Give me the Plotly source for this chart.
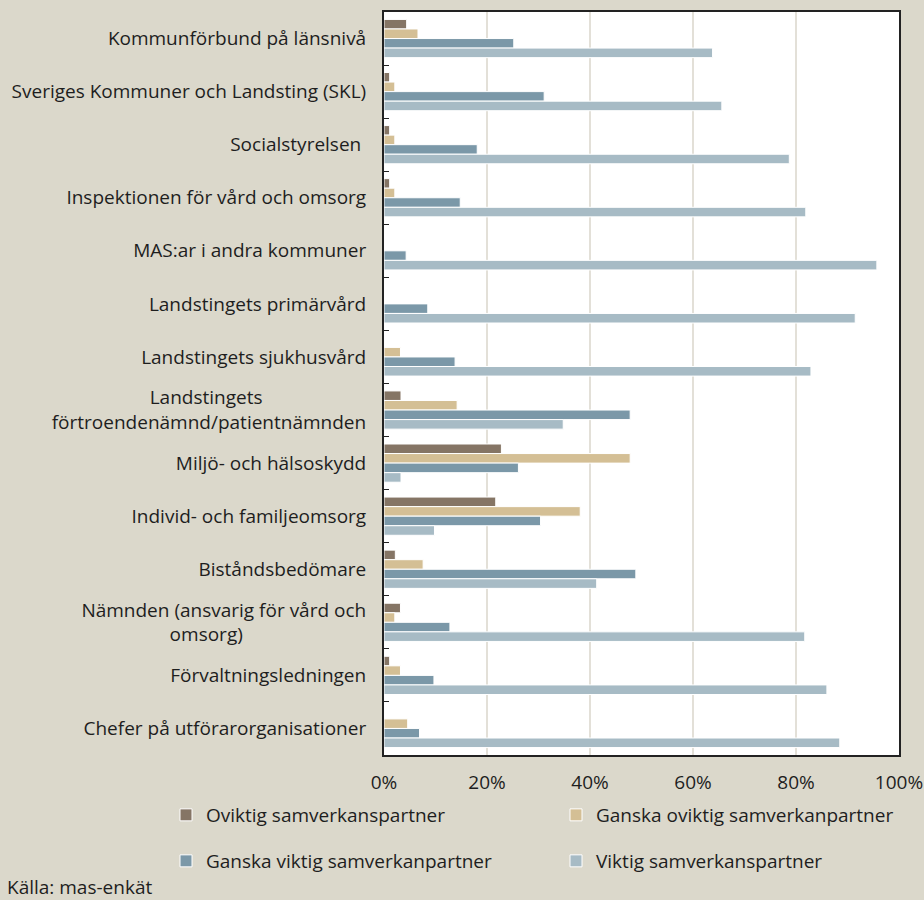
import plotly.graph_objects as go

NB = "\u00a0"
categories = [
    "Kommunförbund på länsnivå",
    "Sveriges Kommuner och Landsting (SKL)",
    "Socialstyrelsen ",
    "Inspektionen för vård och omsorg",
    "MAS:ar i andra kommuner",
    "Landstingets primärvård",
    "Landstingets sjukhusvård",
    "Landstingets" + NB * 21 + "<br>förtroendenämnd/patientnämnden",
    "Miljö- och hälsoskydd",
    "Individ- och familjeomsorg",
    "Biståndsbedömare",
    "Nämnden (ansvarig för vård och<br>omsorg)" + NB * 25,
    "Förvaltningsledningen",
    "Chefer på utförarorganisationer",
]

oviktig = [4.4, 1.1, 1.1, 1.1, 0, 0, 0, 3.3, 22.8, 21.7, 2.2, 3.2, 1.1, 0]
ganska_oviktig = [6.6, 2.1, 2.1, 2.1, 0, 0, 3.2, 14.2, 47.8, 38.1, 7.6, 2.1, 3.2, 4.6]
ganska_viktig = [25.2, 31.1, 18.1, 14.8, 4.3, 8.5, 13.8, 47.8, 26.1, 30.4, 48.9, 12.8, 9.7, 6.9]
viktig = [63.8, 65.6, 78.7, 81.9, 95.7, 91.5, 82.9, 34.8, 3.3, 9.8, 41.3, 81.7, 86.0, 88.5]

series = [
    ("Oviktig samverkanspartner", oviktig, "#857565", "legend"),
    ("Ganska oviktig samverkanpartner", ganska_oviktig, "#d4bf95", "legend"),
    ("Ganska viktig samverkanpartner", ganska_viktig, "#7b98a8", "legend2"),
    ("Viktig samverkanspartner", viktig, "#a7bbc5", "legend2"),
]

FONT = "Open Sans"
FS = 19
TXT = "#1e1e1e"
BG = "#dbd8cb"

fig = go.Figure()
for name, vals, color, lg in series:
    fig.add_trace(go.Bar(
        y=categories, x=[v / 100 for v in vals], name=name, orientation="h",
        marker=dict(color=color, line=dict(color="#ffffff", width=1)),
        legend=lg,
    ))

legend_common = dict(
    orientation="h", xanchor="left", yanchor="middle",
    entrywidth=345, entrywidthmode="pixels",
    font=dict(family=FONT, size=FS, color=TXT),
    bgcolor="rgba(0,0,0,0)", itemwidth=30, tracegroupgap=0,
)

lx = (166 - 384) / 515

fig.update_layout(
    width=924, height=900,
    margin=dict(l=384, r=25, t=12, b=145, autoexpand=False),
    paper_bgcolor=BG, plot_bgcolor="#ffffff",
    barmode="group", bargap=0.28, bargroupgap=0,
    font=dict(family=FONT, size=FS, color=TXT),
    showlegend=True,
    legend=dict(x=lx, y=-(815 - 755) / 743, **legend_common),
    legend2=dict(x=lx, y=-(861 - 755) / 743, **legend_common),
    xaxis=dict(
        range=[0, 1], dtick=0.2, tickformat=".0%",
        showgrid=True, gridcolor="#e3e0d8", gridwidth=2,
        showline=True, linecolor="#222222", linewidth=1.5, mirror=True,
        ticks="", zeroline=False,
        tickfont=dict(family=FONT, size=FS, color=TXT),
        ticklabelstandoff=9,
    ),
    yaxis=dict(
        autorange="reversed", type="category",
        showline=True, linecolor="#222222", linewidth=2, mirror=True,
        ticks="inside", ticklen=5, tickcolor="#222222", tickson="boundaries",
        showgrid=False,
        tickfont=dict(family=FONT, size=FS, color=TXT),
        ticklabelstandoff=12,
    ),
    annotations=[dict(
        text="Källa: mas-enkät", xref="paper", yref="paper",
        x=-(384 - 5) / 515, y=-(887 - 755) / 743, xanchor="left", yanchor="middle",
        showarrow=False, font=dict(family=FONT, size=FS, color=TXT),
    )],
)

fig.write_html("out.html")
